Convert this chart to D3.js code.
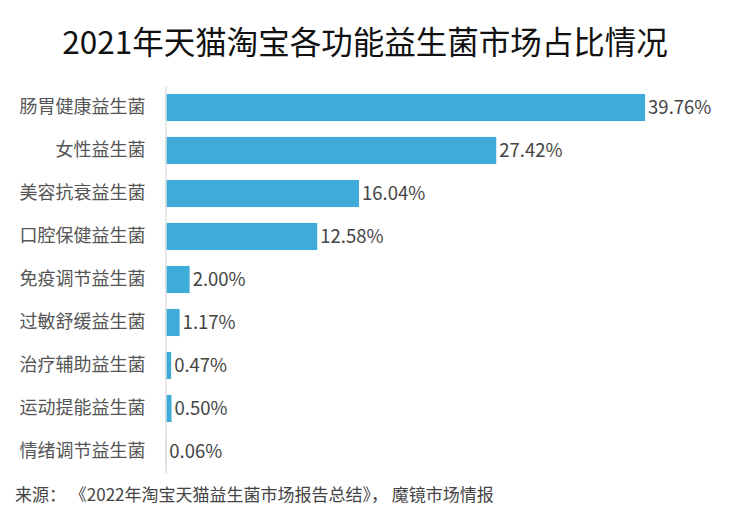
<!DOCTYPE html>
<html>
<head>
<meta charset="utf-8">
<script src="https://cdn.jsdelivr.net/npm/d3@7"></script>
<style>
  body { margin: 0; background: #fff; }
  text { font-family: "Noto Sans CJK SC", "Noto Sans", sans-serif; }
</style>
</head>
<body>
<div id="chart"></div>
<script>
// Data
const categories = ["肠胃健康益生菌", "女性益生菌", "美容抗衰益生菌", "口腔保健益生菌", "免疫调节益生菌",
                    "过敏舒缓益生菌", "治疗辅助益生菌", "运动提能益生菌", "情绪调节益生菌"];
const shares = [39.76, 27.42, 16.04, 12.58, 2.00, 1.17, 0.47, 0.50, 0.06];
const title = "2021年天猫淘宝各功能益生菌市场占比情况";
const source = "来源： 《2022年淘宝天猫益生菌市场报告总结》， 魔镜市场情报";

const width = 730, height = 514;

const svg = d3.select("#chart")
              .append("svg")
              .attr("width", width)
              .attr("height", height);

// Scales
const x = d3.scaleLinear()
            .domain([0, 40])
            .range([165.5, 648]);

const y = d3.scaleBand()
            .domain(categories)
            .range([86, 473])
            .paddingInner(0.37)
            .paddingOuter(0.185);

// Bars
svg.selectAll("rect.bar")
   .data(categories)
   .join("rect")
   .attr("class", "bar")
   .attr("x", x(0))
   .attr("y", d => y(d))
   .attr("width", (d, i) => x(shares[i]) - x(0))
   .attr("height", y.bandwidth())
   .attr("fill", "#3fabd9");

// Category axis (left)
const yAxis = svg.append("g")
   .attr("transform", `translate(${x(0)},0)`)
   .call(d3.axisLeft(y).tickSize(0).tickPadding(20));
yAxis.select(".domain").attr("stroke", "#e2e2e2").attr("stroke-width", 1.5);
yAxis.selectAll("text")
     .style("font-size", "18px")
     .style("font-family", "'Noto Sans CJK SC', sans-serif")
     .attr("fill", "#555");

// Value labels
svg.selectAll("text.value")
   .data(categories)
   .join("text")
   .attr("class", "value")
   .attr("x", (d, i) => x(shares[i]) + 3)
   .attr("y", d => y(d) + y.bandwidth() / 2)
   .attr("dy", "0.35em")
   .style("font-size", "18.5px")
   .attr("fill", "#444")
   .text((d, i) => shares[i].toFixed(2) + "%");

// Title
svg.append("text")
   .attr("x", width / 2)
   .attr("y", 43)
   .attr("dy", "0.35em")
   .attr("text-anchor", "middle")
   .style("font-size", "31.5px")
   .style("font-weight", 400)
   .attr("fill", "#111")
   .text(title);

// Source
svg.append("text")
   .attr("x", 15)
   .attr("y", 495)
   .attr("dy", "0.35em")
   .style("font-size", "17px")
   .attr("fill", "#444")
   .text(source);
</script>
</body>
</html>
